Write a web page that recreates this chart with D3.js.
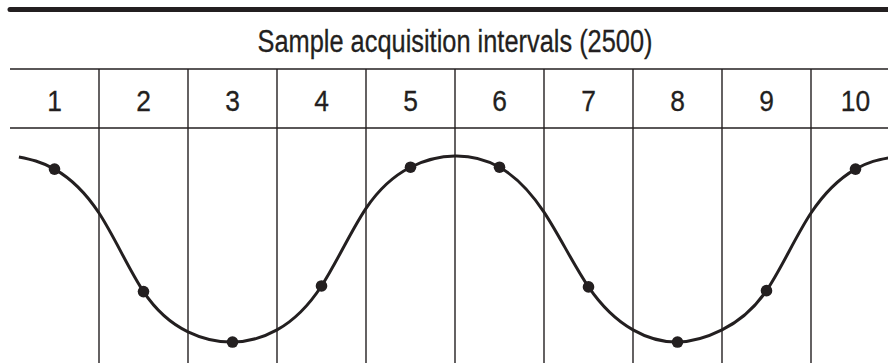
<!DOCTYPE html>
<html><head><meta charset="utf-8">
<script src="https://cdn.jsdelivr.net/npm/d3@7"></script>
<style>html,body{margin:0;padding:0;background:#fff;overflow:hidden}</style>
</head><body>
<svg id="c" width="888" height="363"></svg>
<script>
// Data
const title = "Sample acquisition intervals (2500)";
const intervals = [1,2,3,4,5,6,7,8,9,10];
// sampled values (normalised amplitude) at the centre of each interval
const sampleValues = [0.86,-0.45,-0.99,-0.39,0.88,0.88,-0.40,-0.99,-0.44,0.86];
// traced waveform: position (in intervals) and amplitude
const waveT = [0.10,0.5,1.0,1.5,2.0,2.5,3.0,3.5,4.0,4.5,5.0,5.5,6.0,6.5,7.0,7.5,8.0,8.5,9.0,9.5,9.87];
const waveV = [0.99,0.86,0.39,-0.45,-0.88,-0.99,-0.86,-0.39,0.44,0.88,1.0,0.88,0.40,-0.40,-0.86,-0.99,-0.86,-0.44,0.39,0.86,0.98];

const ink = "#231f20";
const font = "'Liberation Sans',Arial,Helvetica,sans-serif";
const svg = d3.select("#c");
const x = d3.scaleLinear().domain([0,10]).range([10,900]);
const band = d3.scaleBand().domain(intervals).range([10,900]).padding(0);
const y = d3.scaleLinear().domain([-1,1]).range([343,156]);

// top thick rule
svg.append("line").attr("x1",10).attr("x2",895).attr("y1",9.5).attr("y2",9.5)
  .attr("stroke",ink).attr("stroke-width",5).attr("stroke-linecap","round");

// title
svg.append("text").attr("x",x(5)).attr("y",52).attr("text-anchor","middle")
  .attr("font-family",font).attr("font-size",31).attr("fill",ink)
  .attr("stroke",ink).attr("stroke-width",0.3)
  .attr("textLength",395).attr("lengthAdjust","spacingAndGlyphs")
  .text(title);

// horizontal rules
[69,128].forEach(yy=>{
  svg.append("line").attr("x1",10).attr("x2",888).attr("y1",yy).attr("y2",yy)
    .attr("stroke",ink).attr("stroke-width",1.4);
});
// vertical dividers
svg.selectAll(".vd").data(intervals.slice(1)).enter().append("line")
  .attr("x1",d=>band(d)).attr("x2",d=>band(d)).attr("y1",69).attr("y2",363)
  .attr("stroke",ink).attr("stroke-width",1.4);

// interval labels (condensed)
svg.selectAll(".lab").data(intervals).enter().append("text")
  .attr("transform",d=>`translate(${band(d)+band.bandwidth()/2},111) scale(0.88,1)`)
  .attr("text-anchor","middle")
  .attr("font-family",font).attr("font-size",30).attr("fill",ink)
  .attr("stroke",ink).attr("stroke-width",0.3).text(d=>d);

// waveform
const pts = waveT.map((t,i)=>[t,waveV[i]]);
svg.append("path").datum(pts)
  .attr("d",d3.line().x(d=>x(d[0])).y(d=>y(d[1])).curve(d3.curveNatural))
  .attr("fill","none").attr("stroke",ink).attr("stroke-width",3);

// sample dots
svg.selectAll(".dot").data(intervals).enter().append("circle")
  .attr("cx",d=>band(d)+band.bandwidth()/2).attr("cy",(d,i)=>y(sampleValues[i]))
  .attr("r",5.8).attr("fill",ink);
</script>
</body></html>
